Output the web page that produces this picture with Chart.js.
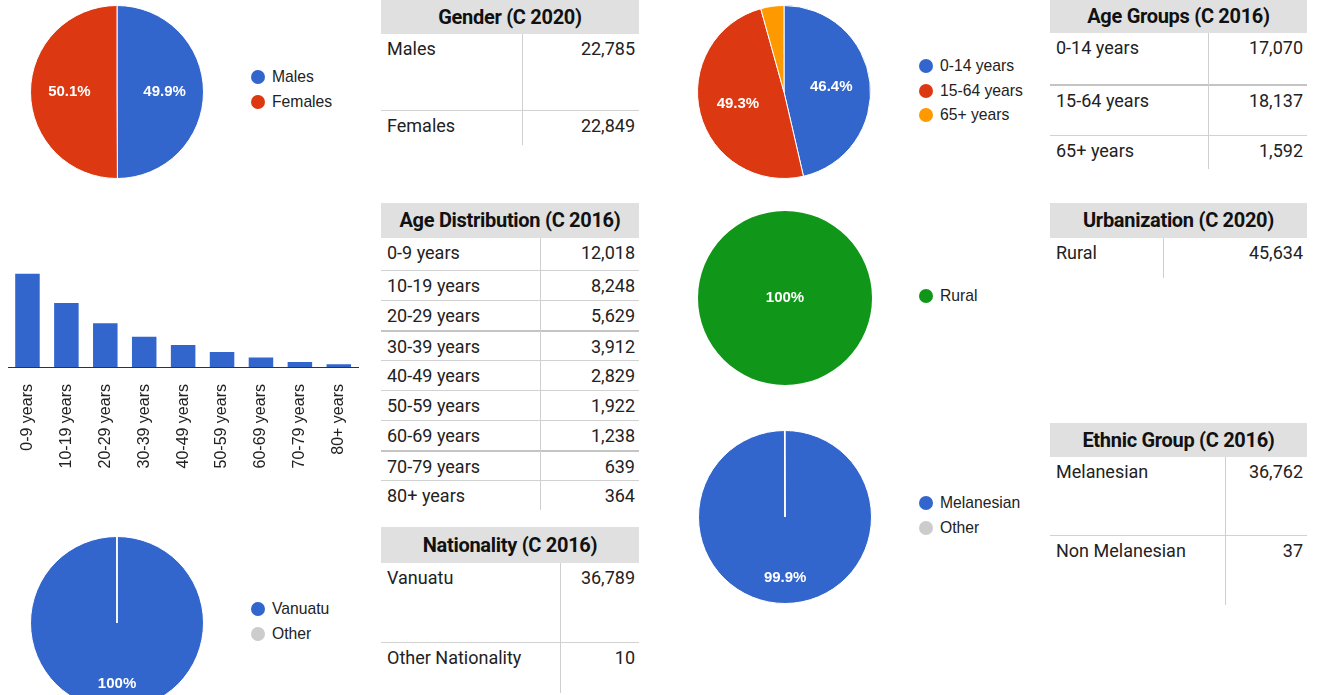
<!DOCTYPE html>
<html><head><meta charset="utf-8">
<script src="https://cdn.jsdelivr.net/npm/chart.js@4.4.1/dist/chart.umd.min.js"></script>
<style>
html,body{margin:0;padding:0;background:#fff;width:1319px;height:695px;overflow:hidden;position:relative;}
canvas{position:absolute;display:block;}
.legend{position:absolute;font:15.7px "Liberation Sans",Arial,sans-serif;color:#222;}
.legend .item{position:absolute;left:0;white-space:nowrap;height:20px;line-height:20px;}
.legend .dot{position:absolute;left:0;top:3px;width:14px;height:14px;border-radius:50%;}
.legend .txt{position:absolute;left:21px;top:0;}
.tbl{position:absolute;font-family:Roboto,"Liberation Sans",sans-serif;color:#222;}
.tbl .hd{position:absolute;left:0;top:0;background:#e0e0e0;font-weight:bold;text-align:center;font-size:20px;color:#111;letter-spacing:-0.3px;}
.tbl .row{position:absolute;left:0;font-size:18px;line-height:20px;}
.tbl .row.sep{border-top:1px solid #d2d2d2;}
.tbl .row.thick{border-top:2px solid #c4c4c4;}
.tbl .lab{position:absolute;left:6px;top:5px;white-space:nowrap;}
.tbl .val{position:absolute;right:4px;top:5px;white-space:nowrap;}
.tbl .vdiv{position:absolute;width:1px;background:#cfcfcf;}
</style>
</head><body>
<script>
// ---------- data ----------
const genderLabels = ['Males', 'Females'];
const genderValues = [22785, 22849];

const ageGroupLabels = ['0-14 years', '15-64 years', '65+ years'];
const ageGroupValues = [17070, 18137, 1592];

const ageDistLabels = ['0-9 years', '10-19 years', '20-29 years', '30-39 years', '40-49 years', '50-59 years', '60-69 years', '70-79 years', '80+ years'];
const ageDistValues = [12018, 8248, 5629, 3912, 2829, 1922, 1238, 639, 364];

const urbanLabels = ['Rural'];
const urbanValues = [45634];

const nationalityLegend = ['Vanuatu', 'Other'];
const nationalityTableLabels = ['Vanuatu', 'Other Nationality'];
const nationalityValues = [36789, 10];

const ethnicLegend = ['Melanesian', 'Other'];
const ethnicTableLabels = ['Melanesian', 'Non Melanesian'];
const ethnicValues = [36762, 37];

const tableTitles = {
  gender: 'Gender (C 2020)', ageGroups: 'Age Groups (C 2016)', ageDist: 'Age Distribution (C 2016)',
  urban: 'Urbanization (C 2020)', nationality: 'Nationality (C 2016)', ethnic: 'Ethnic Group (C 2016)'
};

// ---------- styles ----------
const BLUE = '#3366cc', RED = '#dc3912', ORANGE = '#ff9900', GREEN = '#109618', GRAY = '#cccccc';
const genderColors = [BLUE, RED];
const ageGroupColors = [BLUE, RED, ORANGE];
const urbanColors = [GREEN];
const nationalityColors = [BLUE, GRAY];
const ethnicColors = [BLUE, GRAY];

// ---------- layout ----------
const pieLayout = {
  gender: {left: 30, top: 5},
  ageGroups: {left: 697, top: 5},
  urban: {left: 698, top: 211},
  ethnic: {left: 698, top: 430},
  nationality: {left: 30, top: 536}
};
const PIE_SIZE = 174;
const legendLayout = {
  gender: {left: 251, top: 67, gap: 25},
  ageGroups: {left: 919, top: 56, gap: 24.5},
  urban: {left: 919, top: 286, gap: 25},
  ethnic: {left: 919, top: 493, gap: 25},
  nationality: {left: 251, top: 599, gap: 25}
};
const tableLayout = {
  gender: {left: 381, top: 0, colW: [141, 117], headH: 34, rowH: [76, 35], thick: []},
  ageGroups: {left: 1050, top: 0, colW: [158, 99], headH: 33, rowH: [51, 51, 34], thick: [1]},
  ageDist: {left: 381, top: 203, colW: [159, 99], headH: 35, rowH: [32, 30, 30, 30, 30, 30, 30, 30, 30], thick: [3, 7]},
  urban: {left: 1050, top: 203, colW: [113, 144], headH: 35, rowH: [40], thick: []},
  nationality: {left: 381, top: 527, colW: [179, 79], headH: 36, rowH: [79, 51], thick: []},
  ethnic: {left: 1050, top: 423, colW: [175, 82], headH: 34, rowH: [78, 70], thick: []}
};

// ---------- helpers ----------
function fmt(n) { return n.toLocaleString('en-US'); }

const pctLabels = {
  id: 'pctLabels',
  afterDatasetsDraw(chart) {
    const ctx = chart.ctx;
    const meta = chart.getDatasetMeta(0);
    const data = chart.data.datasets[0].data;
    const total = data.reduce((a, b) => a + b, 0);
    ctx.save();
    ctx.fillStyle = '#ffffff';
    ctx.font = 'bold 15px "Liberation Sans", Arial, sans-serif';
    ctx.textAlign = 'center';
    ctx.textBaseline = 'middle';
    meta.data.forEach((arc, i) => {
      const frac = data[i] / total;
      if (frac < 0.05) return;
      const p = arc.getProps(['x', 'y', 'startAngle', 'endAngle', 'outerRadius'], true);
      const mid = (p.startAngle + p.endAngle) / 2;
      const f = data.length === 1 ? 0 : (frac > 0.9 ? 0.7 : 0.55);
      let txt = (Math.round(frac * 1000) / 10).toFixed(1);
      if (txt.endsWith('.0')) txt = txt.slice(0, -2);
      ctx.fillText(txt + '%', p.x + Math.cos(mid) * p.outerRadius * f, p.y + Math.sin(mid) * p.outerRadius * f);
    });
    ctx.restore();
  }
};

function makePie(key, labels, values, colors) {
  const pos = pieLayout[key];
  const c = document.createElement('canvas');
  c.width = PIE_SIZE; c.height = PIE_SIZE;
  c.style.left = pos.left + 'px'; c.style.top = pos.top + 'px';
  c.style.width = PIE_SIZE + 'px'; c.style.height = PIE_SIZE + 'px';
  document.body.appendChild(c);
  new Chart(c, {
    type: 'pie',
    data: {labels: labels, datasets: [{data: values, backgroundColor: colors, borderColor: '#ffffff',
      borderWidth: values.length === 1 ? 0 : 1}]},
    options: {
      responsive: false, animation: false, devicePixelRatio: 1,
      layout: {padding: 0},
      plugins: {legend: {display: false}, tooltip: {enabled: false}}
    },
    plugins: [pctLabels]
  });
  // legend
  const lg = legendLayout[key];
  const box = document.createElement('div');
  box.className = 'legend';
  box.style.left = lg.left + 'px'; box.style.top = lg.top + 'px';
  labels.forEach((l, i) => {
    const it = document.createElement('div');
    it.className = 'item';
    it.style.top = (i * lg.gap) + 'px';
    it.innerHTML = '<span class="dot" style="background:' + colors[i] + '"></span><span class="txt">' + l + '</span>';
    box.appendChild(it);
  });
  document.body.appendChild(box);
}

function makeTable(key, labels, values) {
  const L = tableLayout[key];
  const w = L.colW[0] + L.colW[1];
  const t = document.createElement('div');
  t.className = 'tbl';
  t.style.left = L.left + 'px'; t.style.top = L.top + 'px'; t.style.width = w + 'px';
  const hd = document.createElement('div');
  hd.className = 'hd';
  hd.style.width = w + 'px'; hd.style.height = L.headH + 'px'; hd.style.lineHeight = L.headH + 'px';
  hd.textContent = tableTitles[key];
  t.appendChild(hd);
  let y = L.headH;
  labels.forEach((lab, i) => {
    const r = document.createElement('div');
    r.className = 'row' + (i > 0 ? (L.thick.includes(i) ? ' thick' : ' sep') : '');
    r.style.top = y + 'px'; r.style.width = w + 'px'; r.style.height = L.rowH[i] + 'px';
    r.style.boxSizing = 'border-box';
    const a = document.createElement('span'); a.className = 'lab'; a.textContent = lab;
    const b = document.createElement('span'); b.className = 'val'; b.textContent = fmt(values[i]);
    r.appendChild(a); r.appendChild(b);
    t.appendChild(r);
    y += L.rowH[i];
  });
  const v = document.createElement('div');
  v.className = 'vdiv';
  v.style.left = L.colW[0] + 'px'; v.style.top = L.headH + 'px'; v.style.height = (y - L.headH) + 'px';
  t.appendChild(v);
  document.body.appendChild(t);
}

// ---------- pies ----------
makePie('gender', genderLabels, genderValues, genderColors);
makePie('ageGroups', ageGroupLabels, ageGroupValues, ageGroupColors);
makePie('urban', urbanLabels, urbanValues, urbanColors);
makePie('ethnic', ethnicLegend, ethnicValues, ethnicColors);
makePie('nationality', nationalityLegend, nationalityValues, nationalityColors);

// ---------- bar chart ----------
(function () {
  const c = document.createElement('canvas');
  c.width = 375; c.height = 230;
  c.style.left = '0px'; c.style.top = '255px'; c.style.width = '375px'; c.style.height = '230px';
  document.body.appendChild(c);
  new Chart(c, {
    type: 'bar',
    data: {labels: ageDistLabels, datasets: [{data: ageDistValues, backgroundColor: BLUE, barPercentage: 0.63, categoryPercentage: 1}]},
    options: {
      responsive: false, animation: false, devicePixelRatio: 1,
      layout: {padding: {left: 8, right: 0, top: 15, bottom: 0}},
      plugins: {legend: {display: false}, tooltip: {enabled: false}},
      scales: {
        x: {
          grid: {display: false, drawTicks: false},
          border: {display: true, color: '#333333', width: 1},
          ticks: {autoSkip: false, minRotation: 90, maxRotation: 90, padding: 17, color: '#222',
                  font: {family: '"Liberation Sans", Arial, sans-serif', size: 16}},
          afterFit(s) { s.height = 118; }
        },
        y: {display: false, min: 0, max: 12500}
      }
    }
  });
})();

// ---------- tables ----------
makeTable('gender', genderLabels, genderValues);
makeTable('ageGroups', ageGroupLabels, ageGroupValues);
makeTable('ageDist', ageDistLabels, ageDistValues);
makeTable('urban', urbanLabels, urbanValues);
makeTable('nationality', nationalityTableLabels, nationalityValues);
makeTable('ethnic', ethnicTableLabels, ethnicValues);
</script>
</body></html>
